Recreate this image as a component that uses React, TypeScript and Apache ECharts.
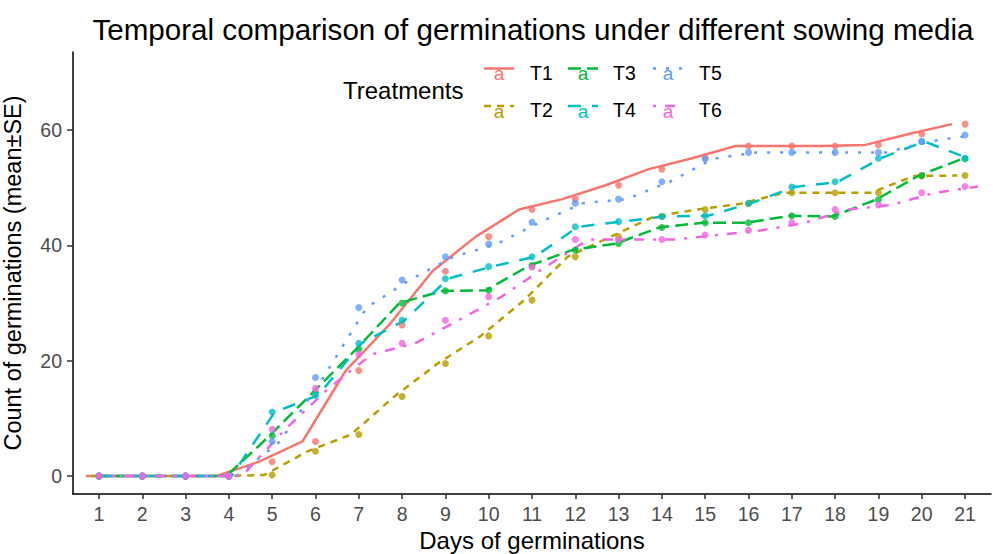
import React, { useEffect, useRef } from "react";
import * as echarts from "echarts";

const days = [1, 2, 3, 4, 5, 6, 7, 8, 9, 10, 11, 12, 13, 14, 15, 16, 17, 18, 19, 20, 21];
const treatments = ["T1", "T2", "T3", "T4", "T5", "T6"];
const T1 = [0, 0, 0, 0, 2.5, 6, 18.3, 26.2, 35.5, 41.5, 46.2, 48, 50.4, 53.2, 55.1, 57.2, 57.2, 57.2, 57.4, 59.3, 61];
const T2 = [0, 0, 0, 0, 0.2, 4.3, 7.2, 13.8, 19.5, 24.3, 30.5, 38, 41.5, 45, 46.2, 47.2, 49.1, 49.1, 49.1, 52, 52.1];
const T3 = [0, 0, 0, 0, 7, 14.5, 22, 30, 32.1, 32.2, 36.5, 39.2, 40.3, 43.1, 43.9, 43.9, 45.1, 45, 47.9, 52.1, 55];
const T4 = [0, 0, 0, 0, 11.1, 14, 23, 27, 34.2, 36.3, 38, 43.2, 44.1, 45, 45.1, 47.3, 50.1, 51, 55.1, 58, 55.1];
const T5 = [0, 0, 0, 0, 6, 17.1, 29.2, 34, 38, 40.2, 44, 47.3, 48, 51, 55, 56.1, 56.1, 56.1, 56.1, 58, 59.1];
const T6 = [0, 0, 0, 0, 8.1, 15.2, 21.1, 23, 27, 31.1, 36.2, 41, 41, 41, 41.8, 42.6, 43.9, 46.2, 47, 49.1, 50.2];
const yTicks = [0, 20, 40, 60];

const seriesValues = [T1, T2, T3, T4, T5, T6];
const colors = ["#F8766D", "#B79F00", "#00BA38", "#00BFC4", "#619CFF", "#F564E3"];
const dashes: (string | number[])[] = ["solid", [7, 6], [13, 6], [13, 11], [3, 10], [3, 9, 10, 9]];
const dodge = [-0.3, -0.18, -0.06, 0.06, 0.18, 0.3];

const FONT = "'Liberation Sans', Arial, sans-serif";

export default function App() {
  const ref = useRef<HTMLDivElement>(null);
  useEffect(() => {
    document.body.style.margin = "0";
    if (!ref.current) return;
    const chart = echarts.init(ref.current, undefined, { renderer: "svg" });

    const lineSeries = seriesValues.map((vals, i) => ({
      type: "line",
      name: treatments[i],
      data: vals.map((v, j) => [days[j] + dodge[i], v]),
      showSymbol: false,
      symbol: "none",
      lineStyle: { color: colors[i], width: 2.5, type: dashes[i], cap: "butt" },
      z: 2,
      silent: true,
    }));
    const pointSeries = seriesValues.map((vals, i) => ({
      type: "scatter",
      name: treatments[i] + "pts",
      data: vals.map((v, j) => [days[j], v]),
      symbol: "circle",
      symbolSize: 7,
      itemStyle: { color: colors[i] },
      z: 3,
      silent: true,
    }));

    const legendCols = [484, 568, 653];
    const legendTextX = [530, 613, 699];
    const legendRows = [72.5, 110];
    const legendEls: any[] = [];
    treatments.forEach((t, i) => {
      const col = Math.floor(i / 2);
      const row = i % 2;
      const x0 = legendCols[col];
      const yc = legendRows[row];
      legendEls.push({
        type: "line",
        shape: { x1: x0, y1: yc - 4, x2: x0 + 30, y2: yc - 4 },
        style: {
          stroke: colors[i],
          lineWidth: 2.5,
          lineDash: dashes[i] === "solid" ? null : (dashes[i] as number[]),
        },
        silent: true,
      });
      legendEls.push({
        type: "text",
        x: x0 + 15,
        y: yc + 1,
        style: {
          text: "a",
          fill: colors[i],
          font: `19px ${FONT}`,
          align: "center",
          verticalAlign: "middle",
          textAlign: "center",
          textVerticalAlign: "middle",
        },
        silent: true,
      });
      legendEls.push({
        type: "text",
        x: legendTextX[col],
        y: yc,
        style: {
          text: t,
          fill: "#000000",
          font: `19.5px ${FONT}`,
          align: "left",
          verticalAlign: "middle",
          textAlign: "left",
          textVerticalAlign: "middle",
        },
        silent: true,
      });
    });
    legendEls.push({
      type: "text",
      x: 343,
      y: 90,
      style: {
        text: "Treatments",
        fill: "#000000",
        font: `24px ${FONT}`,
        align: "left",
        verticalAlign: "middle",
        textAlign: "left",
        textVerticalAlign: "middle",
      },
      silent: true,
    });

    chart.setOption({
      animation: false,
      backgroundColor: "#ffffff",
      title: {
        text: "Temporal comparison of germinations under different sowing media",
        left: 528,
        top: 9,
        textAlign: "center",
        textStyle: { fontFamily: FONT, fontSize: 29.6, fontWeight: "normal", color: "#000000" },
      },
      grid: { left: 73, right: 2, top: 52, bottom: 60, containLabel: false, outerBoundsMode: "none" },
      xAxis: {
        type: "value",
        min: 0.4,
        max: 21.6,
        name: "Days of germinations",
        nameLocation: "middle",
        nameGap: 34,
        nameTextStyle: { fontFamily: FONT, fontSize: 24, color: "#000000" },
        axisLine: { show: true, onZero: false, lineStyle: { color: "#000000", width: 1.5 } },
        axisTick: { show: true, length: 5, lineStyle: { color: "#333333", width: 1.5 }, customValues: days },
        axisLabel: {
          show: true,
          customValues: days,
          margin: 10,
          fontFamily: FONT,
          fontSize: 19.5,
          color: "#4D4D4D",
        },
        splitLine: { show: false },
      },
      yAxis: {
        type: "value",
        min: -3.1,
        max: 73.5,
        name: "Count of germinations (mean±SE)",
        nameLocation: "middle",
        nameGap: 48,
        nameTextStyle: { fontFamily: FONT, fontSize: 23.5, color: "#000000" },
        axisLine: { show: true, onZero: false, lineStyle: { color: "#000000", width: 1.5 } },
        axisTick: { show: true, length: 6, lineStyle: { color: "#333333", width: 1.5 }, customValues: yTicks },
        axisLabel: {
          show: true,
          customValues: yTicks,
          margin: 11,
          fontFamily: FONT,
          fontSize: 19.5,
          color: "#4D4D4D",
        },
        splitLine: { show: false },
      },
      graphic: legendEls,
      series: [...lineSeries, ...pointSeries],
    } as any);

    return () => chart.dispose();
  }, []);
  return <div ref={ref} style={{ width: 993, height: 554 }} />;
}
